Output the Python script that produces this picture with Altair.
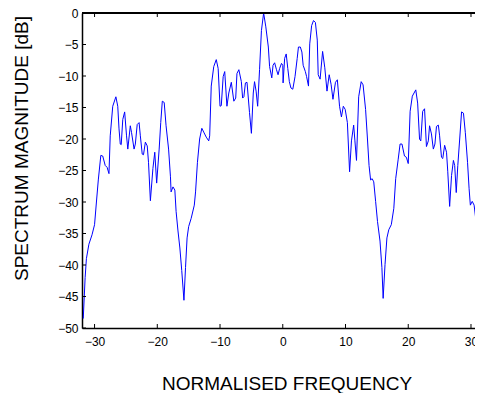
import altair as alt
import pandas as pd

# Spectrum trace (normalised frequency, dB)
freq = [
    -31.8, -31.5, -31.3, -30.9, -30.4, -30.0, -29.7, -29.4, -29.0, -28.7,
    -28.3, -28.0, -27.7, -27.5, -27.1, -26.6, -26.3, -26.1, -25.9, -25.75,
    -25.5, -25.2, -24.9, -24.7, -24.3, -24.1, -23.7, -23.5, -23.2, -22.9,
    -22.7, -22.4, -22.2, -21.9, -21.6, -21.4, -21.1, -20.7, -20.4, -20.1,
    -19.7, -19.45, -19.2, -18.9, -18.6, -18.2, -17.9, -17.8, -17.5, -17.2,
    -17.0, -16.7, -16.4, -16.1, -15.75, -15.5, -15.25, -15.0, -14.6, -14.1,
    -13.9, -13.6, -13.25, -12.9, -12.6, -12.2, -11.8, -11.65, -11.4, -11.0,
    -10.6, -10.3, -10.0, -9.8, -9.5, -9.25, -8.9, -8.6, -8.2, -7.8,
    -7.5, -7.3, -7.0, -6.6, -6.4, -6.2, -5.95, -5.7, -5.3, -5.0,
    -4.7, -4.5, -4.25, -4.0, -3.7, -3.4, -3.05, -2.7, -2.3, -2.1,
    -1.75, -1.55, -1.3, -1.0, -0.75, -0.5, -0.2, 0.0, 0.05, 0.3,
    0.55, 0.8, 1.05, 1.3, 1.6, 1.95, 2.3, 2.5, 2.8, 3.05,
    3.25, 3.6, 3.8, 4.1, 4.3, 4.6, 4.9, 5.2, 5.5, 5.65,
    5.95, 6.35, 6.7, 7.05, 7.4, 7.7, 8.0, 8.4, 8.7, 9.05,
    9.35, 9.65, 9.95, 10.3, 10.65, 10.95, 11.3, 11.5, 11.75, 12.1,
    12.5, 12.8, 13.2, 13.5, 13.75, 14.0, 14.25, 14.5, 14.8, 15.1,
    15.5, 15.8, 16.0, 16.3, 16.6, 16.9, 17.3, 17.7, 18.0, 18.4,
    18.7, 19.0, 19.4, 19.7, 20.0, 20.3, 20.65, 21.2, 21.5, 21.8,
    22.0, 22.3, 22.6, 22.9, 23.2, 23.4, 23.7, 24.0, 24.25, 24.5,
    24.8, 25.0, 25.3, 25.5, 25.8, 26.1, 26.3, 26.6, 26.9, 27.2,
    27.4, 27.65, 27.9, 28.2, 28.5, 28.8, 29.1, 29.45, 29.7, 29.9,
    30.2, 30.5, 30.75, 31.0,
]
magnitude = [
    -48.5, -42.0, -39.0, -36.7, -35.2, -33.6, -30.0, -26.5, -22.6, -22.7,
    -24.2, -24.5, -25.5, -19.5, -14.8, -13.3, -14.8, -18.4, -20.8, -20.9,
    -16.9, -15.7, -19.5, -21.6, -17.9, -19.0, -21.6, -20.8, -17.7, -17.4,
    -19.5, -22.4, -22.5, -20.5, -21.1, -23.7, -29.8, -24.7, -22.1, -27.0,
    -21.6, -17.4, -14.0, -14.2, -17.9, -21.6, -26.0, -28.4, -27.6, -28.1,
    -31.5, -34.6, -37.3, -40.9, -45.6, -40.4, -35.7, -33.9, -32.6, -30.5,
    -28.4, -23.7, -20.0, -18.3, -18.9, -19.7, -20.3, -19.5, -11.6, -8.5,
    -7.4, -8.8, -14.8, -14.7, -10.1, -9.3, -14.8, -12.7, -11.0, -14.0,
    -13.5, -9.6, -9.0, -10.9, -13.5, -13.3, -11.1, -11.0, -15.8, -19.1,
    -12.7, -10.9, -12.4, -14.8, -9.0, -2.8, 0.0, -2.2, -5.4, -8.5,
    -10.3, -8.3, -7.9, -9.0, -9.8, -8.8, -8.0, -8.3, -11.1, -7.2,
    -6.5, -8.8, -10.9, -11.9, -12.1, -10.1, -7.2, -5.4, -5.4, -6.2,
    -8.3, -9.3, -10.1, -11.6, -4.9, -2.0, -1.2, -1.5, -4.3, -9.8,
    -10.5, -6.1, -8.7, -12.4, -9.8, -11.3, -13.7, -11.0, -10.6, -14.8,
    -16.5, -14.8, -15.3, -17.4, -25.2, -20.3, -17.8, -20.3, -23.4, -13.3,
    -10.9, -11.4, -15.3, -20.0, -24.2, -26.5, -26.3, -26.8, -29.9, -33.1,
    -36.2, -40.4, -45.3, -39.9, -35.7, -34.4, -33.6, -31.0, -26.3, -23.2,
    -20.8, -20.8, -22.7, -22.9, -23.9, -15.6, -13.2, -12.2, -14.3, -20.0,
    -20.3, -15.6, -15.2, -21.2, -20.3, -17.9, -19.2, -21.6, -20.8, -18.0,
    -17.8, -19.5, -22.9, -23.1, -21.0, -22.1, -25.2, -30.7, -25.8, -23.4,
    -24.2, -28.5, -24.2, -20.0, -15.7, -15.9, -19.0, -23.7, -27.9, -30.5,
    -29.9, -30.5, -32.6, -34.5,
]
x_ticks = [-30, -20, -10, 0, 10, 20, 30]
y_ticks = [0, -5, -10, -15, -20, -25, -30, -35, -40, -45, -50]

W, H = 393, 315
X_DOMAIN = [-32, 30.64]
Y_DOMAIN = [-50, 0]
FONT = "Liberation Sans"

df = pd.DataFrame({"f": freq, "m": magnitude})
xt = pd.DataFrame({"f": x_ticks})
yt = pd.DataFrame({"m": y_ticks})

xscale = alt.Scale(domain=X_DOMAIN, nice=False, zero=False)
yscale = alt.Scale(domain=Y_DOMAIN, nice=False, zero=False)

xaxis = alt.Axis(
    title="NORMALISED FREQUENCY", values=x_ticks, ticks=False,
    labelFontSize=12, labelPadding=8, labelFont=FONT, labelColor="black",
    titleFont=FONT, titleFontSize=19, titleFontWeight="normal", titleColor="black",
    titlePadding=27, titleX=204.5, domainColor="black", domainWidth=1.5, grid=False,
    labelFlush=False, labelOverlap=False)
yaxis = alt.Axis(
    title="SPECTRUM MAGNITUDE [dB]", values=y_ticks, ticks=False,
    labelFontSize=12, labelPadding=4, labelFont=FONT, labelColor="black",
    titleFont=FONT, titleFontSize=19, titleFontWeight="normal", titleColor="black",
    titlePadding=26, titleY=135, domainColor="black", domainWidth=1.5, grid=False,
    labelFlush=False, labelOverlap=False)

X = alt.X("f:Q", scale=xscale, axis=xaxis, title="NORMALISED FREQUENCY")
Y = alt.Y("m:Q", scale=yscale, axis=yaxis, title="SPECTRUM MAGNITUDE [dB]")

line = alt.Chart(df).mark_line(color="#0000FF", strokeWidth=1, clip=True).encode(
    x=X, y=Y,
)

bottom_ticks = alt.Chart(xt).mark_rule(color="black", strokeWidth=1).encode(
    x=X, y=alt.value(H), y2=alt.value(H - 4),
)
top_ticks = alt.Chart(xt).mark_rule(color="black", strokeWidth=1).encode(
    x=X, y=alt.value(0), y2=alt.value(4),
)
left_ticks = alt.Chart(yt).mark_rule(color="black", strokeWidth=1).encode(
    y=Y, x=alt.value(0), x2=alt.value(4),
)
top_border = alt.Chart(xt).mark_rule(color="black", strokeWidth=1.5).encode(
    x=alt.value(0), x2=alt.value("width"), y=alt.value(0),
)

chart = alt.layer(line, bottom_ticks, top_ticks, left_ticks, top_border).properties(
    width=W, height=H,
    autosize=alt.AutoSizeParams(type="none"),
    padding={"left": 74, "top": 5, "right": 0, "bottom": 65},
    background="white",
).configure_view(stroke=None)

chart.save("out.html", embed_options={"renderer": "svg", "actions": False})
